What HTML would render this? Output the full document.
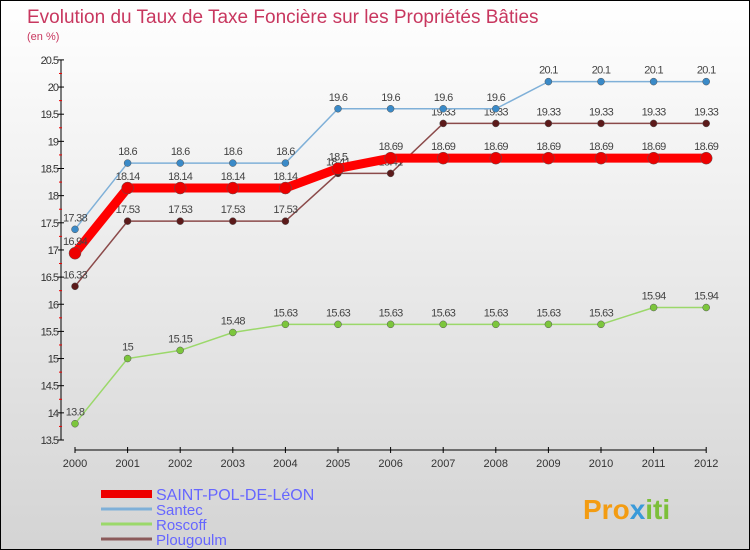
<!DOCTYPE html>
<html><head><meta charset="utf-8"><style>
body{margin:0}
#c{width:748px;height:548px;border:1px solid #000;background:linear-gradient(#fff,#d4d4d4);position:relative;font-family:"Liberation Sans",sans-serif;overflow:hidden}
</style></head><body>
<div id="c">
<svg id="s" width="748" height="548" xmlns="http://www.w3.org/2000/svg" style="position:absolute;left:0;top:0">
<text x="26" y="22" font-size="19" fill="#c8375f">Evolution du Taux de Taxe Foncière sur les Propriétés Bâties</text>
<text x="26" y="39" font-size="11" fill="#c8375f">(en %)</text>
<g id="axes"></g><g id="series"></g><g id="legend"></g>
<text x="582" y="518" font-size="28" font-weight="bold" fill="#f39c12">Pro<tspan fill="#3a9ad9">x</tspan><tspan fill="#7cbf3a">iti</tspan></text>
</svg>
</div>
<script>
const years=[2000,2001,2002,2003,2004,2005,2006,2007,2008,2009,2010,2011,2012];
const yTicks=[13.5,14,14.5,15,15.5,16,16.5,17,17.5,18,18.5,19,19.5,20,20.5];
const saint=[16.94,18.14,18.14,18.14,18.14,18.5,18.69,18.69,18.69,18.69,18.69,18.69,18.69];
const santec=[17.38,18.6,18.6,18.6,18.6,19.6,19.6,19.6,19.6,20.1,20.1,20.1,20.1];
const roscoff=[13.8,15,15.15,15.48,15.63,15.63,15.63,15.63,15.63,15.63,15.63,15.94,15.94];
const plougoulm=[16.33,17.53,17.53,17.53,17.53,18.41,18.41,19.33,19.33,19.33,19.33,19.33,19.33];
const NS="http://www.w3.org/2000/svg";
const X=i=>74+i*52.6, Y=v=>439-(v-13.5)*54.3;
function mk(t,a,p){const e=document.createElementNS(NS,t);for(const k in a)e.setAttribute(k,a[k]);p.appendChild(e);return e;}
const ax=document.getElementById('axes');
let l=mk('line',{x1:60,y1:Y(20.5),x2:60,y2:Y(13.5),stroke:'#000'},ax);


l=mk('line',{x1:X(0),y1:449,x2:X(12),y2:449,stroke:'#000'},ax);


yTicks.forEach((v,i)=>{
  mk('line',{x1:57,x2:63,y1:Y(v),y2:Y(v),stroke:'#000'},ax);
  if(i<yTicks.length-1)mk('line',{x1:58,x2:61,y1:Y(v+0.25),y2:Y(v+0.25),stroke:'#e00'},ax);
  const t=mk('text',{x:57,y:Y(v)+4,'font-size':11,'text-anchor':'end',fill:'#333','letter-spacing':'-1'},ax);t.textContent=v;
  
  
});
years.forEach((y,i)=>{
  mk('line',{x1:X(i),x2:X(i),y1:446,y2:452,stroke:'#000'},ax);
  const t=mk('text',{x:X(i),y:466,'font-size':11,'text-anchor':'middle',fill:'#333'},ax);t.textContent=y;
  
  
});
const sg=document.getElementById('series');
const defs=[["roscoff",roscoff,'#9bd86a','#7cc63c',1.5,3.5],["plougoulm",plougoulm,'#8b4a4a','#5c1a1a',1.5,3.5],["santec",santec,'#7fb0d8','#3a8ac8',1.5,3.5],["saint-pol-de-leon",saint,'#f00','#e00',9,6]];
defs.forEach(([n,d,lc,pc,w,r])=>{
  const p=mk('polyline',{points:d.map((v,i)=>X(i)+','+Y(v)).join(' '),fill:'none',stroke:lc,'stroke-width':w},sg);
  
  
  d.forEach((v,i)=>{
    const c=mk('circle',{cx:X(i),cy:Y(v),r:r,fill:pc,stroke:'#555','stroke-width':0.5},sg);
    
    
    const t=mk('text',{x:X(i),y:Y(v)-8,'font-size':11,'text-anchor':'middle',fill:'#444','letter-spacing':'-0.7'},sg);t.textContent=v;
    
    
  });
});
const lg=document.getElementById('legend');
[["SAINT-POL-DE-LéON",'#e00',8,493,16],["Santec",'#7fb0d8',3,508,15],["Roscoff",'#9bd86a',3,523,15],["Plougoulm",'#8b5a5a',3,538,15]].forEach(([n,c,w,y,f])=>{
  const r=mk('line',{x1:100,x2:151,y1:y,y2:y,stroke:c,'stroke-width':w},lg);
  
  
  const t=mk('text',{x:155,y:y+6,'font-size':f,fill:'#6666ff'},lg);t.textContent=n;
  
  
});
</script>
</body></html>
